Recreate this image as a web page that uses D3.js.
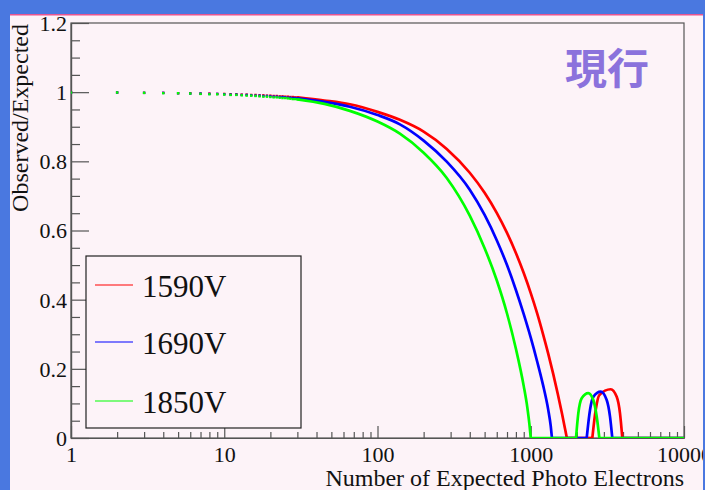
<!DOCTYPE html>
<html>
<head>
<meta charset="utf-8">
<script src="https://cdn.jsdelivr.net/npm/d3@7"></script>
<style>
  body { margin: 0; background: #fdf3f8; }
  svg { display: block; }
  text { font-family: "Liberation Serif", "Times New Roman", serif; fill: #111; }
</style>
</head>
<body>
<svg id="chart" width="705" height="490"></svg>
<script>
// series names / colours
var seriesNames = ["1590V", "1690V", "1850V"];
var seriesColors = ["#ff0000", "#0000ff", "#00ff00"];

// low N part, drawn as single points
var lowN = [1,2,3,4,5,6,7,8,9,10,11,12,13,14,15,16,17,18,19,20,21,22,23,24,25,26,27,28,29,30];
var redLow   = [1.000,.999,.998,.998,.997,.997,.996,.996,.995,.995,.994,.994,.993,.993,.992,.992,.991,.991,.990,.990,.989,.989,.988,.988,.987,.987,.986,.986,.985,.985];
var blueLow  = [.999,.999,.998,.998,.997,.996,.996,.995,.995,.994,.993,.993,.992,.992,.991,.990,.990,.989,.989,.988,.987,.987,.986,.986,.985,.984,.984,.983,.983,.982];
var greenLow = [.999,.999,.998,.997,.997,.996,.995,.994,.994,.993,.992,.992,.991,.990,.990,.989,.988,.987,.987,.986,.985,.985,.984,.983,.983,.982,.981,.980,.980,.979];

// dense part, drawn as a curve
var redN       = [30, 45, 66, 100, 140, 200, 283, 400, 500, 600, 700, 800, 900, 1000, 1100, 1200, 1300, 1400, 1500, 1600, 1680, 1720,
                  2522, 2653, 2802, 3324, 3638, 3823, 3958, 10000];
var redRatio   = [.985, .976, .965, .943, .920, .886, .836, .767, .709, .651, .593, .535, .477, .419, .361, .302, .244, .186, .128, .070, .023, 0,
                  0, .081, .124, .141, .119, .071, 0, 0];
var blueN      = [30, 45, 66, 100, 140, 200, 283, 400, 500, 600, 700, 800, 900, 1000, 1100, 1200, 1300, 1350, 1375,
                  2318, 2436, 2560, 2860, 3130, 3290, 3405, 10000];
var blueRatio  = [.982, .972, .958, .934, .907, .860, .799, .718, .645, .572, .500, .428, .358, .290, .222, .155, .082, .035, 0,
                  0, .081, .119, .134, .110, .062, 0, 0];
var greenN     = [30, 45, 66, 100, 140, 200, 283, 400, 500, 600, 700, 800, 900, 950, 980, 1000,
                  1974, 2043, 2150, 2374, 2560, 2694, 2802, 10000];
var greenRatio = [.979, .966, .946, .915, .880, .825, .752, .643, .549, .456, .360, .258, .150, .088, .040, 0,
                  0, .071, .115, .130, .110, .062, 0, 0];

var xMajor = [1, 10, 100, 1000, 10000];
var yMajor = [0, 0.2, 0.4, 0.6, 0.8, 1, 1.2];
var yMinor = [0.05,0.1,0.15,0.25,0.3,0.35,0.45,0.5,0.55,0.65,0.7,0.75,0.85,0.9,0.95,1.05,1.1,1.15];

var W = 705, H = 490;
var m = {left: 71, top: 23, right: 684, bottom: 438};

var svg = d3.select("#chart");

// slide frame
svg.append("rect").attr("x", 0).attr("y", 0).attr("width", W).attr("height", H).attr("fill", "#fdf3f8");
svg.append("rect").attr("x", 0).attr("y", 0).attr("width", W).attr("height", 14).attr("fill", "#4a78e0");
svg.append("rect").attr("x", 10).attr("y", 14).attr("width", 693).attr("height", 1.5).attr("fill", "#e8558f");
svg.append("rect").attr("x", 0).attr("y", 0).attr("width", 10).attr("height", H).attr("fill", "#4a78e0");

var x = d3.scaleLog().domain([1, 10000]).range([m.left, m.right]);
var y = d3.scaleLinear().domain([0, 1.2]).range([m.bottom, m.top]);

svg.append("clipPath").attr("id", "plotClip")
  .append("rect").attr("x", m.left).attr("y", m.top - 3)
  .attr("width", m.right - m.left).attr("height", m.bottom - m.top + 3);

// frame box
svg.append("rect")
  .attr("x", m.left).attr("y", m.top)
  .attr("width", m.right - m.left).attr("height", m.bottom - m.top)
  .attr("fill", "none").attr("stroke", "#555").attr("stroke-width", 1.2);

// y axis
var yMinorAxis = d3.axisLeft(y).tickValues(yMinor).tickSizeInner(-9).tickSizeOuter(0).tickFormat("");
var yAxis = d3.axisLeft(y).tickValues(yMajor).tickSizeInner(-18).tickSizeOuter(0).tickPadding(4)
  .tickFormat(function(d){ return String(d); });
svg.append("g").attr("transform", "translate(" + m.left + ",0)").call(yMinorAxis);
var gy = svg.append("g").attr("transform", "translate(" + m.left + ",0)").call(yAxis);
gy.selectAll("text").attr("font-size", 22).attr("font-family", "Liberation Serif").attr("fill", "#111").attr("dy", "0.34em");

// x axis
var xMinor = x.ticks().filter(function(d){ return xMajor.indexOf(d) < 0; });
var xMinorAxis = d3.axisBottom(x).tickValues(xMinor).tickSizeInner(-6).tickSizeOuter(0).tickFormat("");
var xAxis = d3.axisBottom(x).tickValues(xMajor).tickSizeInner(-12).tickSizeOuter(0).tickPadding(8)
  .tickFormat(function(d){ return String(d); });
svg.append("g").attr("transform", "translate(0," + m.bottom + ")").call(xMinorAxis);
var gx = svg.append("g").attr("transform", "translate(0," + m.bottom + ")").call(xAxis);
gx.selectAll("text").attr("font-size", 22).attr("font-family", "Liberation Serif").attr("fill", "#111");

svg.selectAll(".domain").attr("stroke", "#555").attr("stroke-width", 1.2);
svg.selectAll(".tick line").attr("stroke", "#555").attr("stroke-width", 1.2);

// titles
svg.append("text")
  .attr("x", m.right).attr("y", 486)
  .attr("text-anchor", "end").attr("font-size", 24)
  .text("Number of Expected Photo Electrons");
svg.append("text")
  .attr("transform", "translate(28," + (m.top + 1) + ") rotate(-90)")
  .attr("text-anchor", "end").attr("font-size", 24)
  .text("Observed/Expected");

// curves
var lows = [redLow, blueLow, greenLow];
var curveN = [redN, blueN, greenN];
var curveR = [redRatio, blueRatio, greenRatio];

var line = d3.line()
  .x(function(d){ return x(d[0]); })
  .y(function(d){ return y(d[1]); })
  .curve(d3.curveMonotoneX);

var plot = svg.append("g").attr("clip-path", "url(#plotClip)");

seriesNames.forEach(function(name, s){
  var pts = curveN[s].map(function(n, i){ return [n, curveR[s][i]]; });
  // split at zero points so the curve meets the axis with a corner
  var pieces = [], cur = [];
  pts.forEach(function(p, i){
    cur.push(p);
    if (p[1] === 0 && i > 0 && i < pts.length - 1) {
      pieces.push(cur);
      cur = [p];
    }
  });
  pieces.push(cur);
  pieces.forEach(function(piece){
    plot.append("path")
      .attr("d", line(piece))
      .attr("fill", "none")
      .attr("stroke", seriesColors[s])
      .attr("stroke-width", 2.7)
      .attr("stroke-linejoin", "round");
  });
  plot.selectAll(".dot" + s)
    .data(lowN.map(function(n, i){ return [n, lows[s][i]]; }))
    .enter().append("rect")
    .attr("class", "dot" + s)
    .attr("x", function(d){ return x(d[0]) - 1.2; })
    .attr("y", function(d){ return y(d[1]) - 1.2; })
    .attr("width", 2.4).attr("height", 2.4)
    .attr("fill", seriesColors[s]);
});

// legend
var leg = svg.append("g");
leg.append("rect")
  .attr("x", 86).attr("y", 256).attr("width", 215).attr("height", 172)
  .attr("fill", "#fdf3f8").attr("stroke", "#222").attr("stroke-width", 1.2);
var legY = [285, 342, 401];
seriesNames.forEach(function(name, s){
  leg.append("line")
    .attr("x1", 95).attr("x2", 133).attr("y1", legY[s]).attr("y2", legY[s])
    .attr("stroke", seriesColors[s]).attr("stroke-width", 1.2);
  leg.append("text")
    .attr("x", 142).attr("y", legY[s] + 12)
    .attr("font-size", 31)
    .text(name);
});

// label
svg.append("text")
  .attr("x", 565).attr("y", 84)
  .attr("font-weight", "bold").attr("font-size", 42)
  .style("font-family", "'Noto Sans CJK JP', 'Noto Sans CJK SC', sans-serif")
  .style("fill", "#8b72dc")
  .text("現行");

// right edge of the slide frame, drawn over the last tick label as in the original
svg.append("rect").attr("x", 703).attr("y", 0).attr("width", 2).attr("height", H).attr("fill", "#4a78e0");
</script>
</body>
</html>
